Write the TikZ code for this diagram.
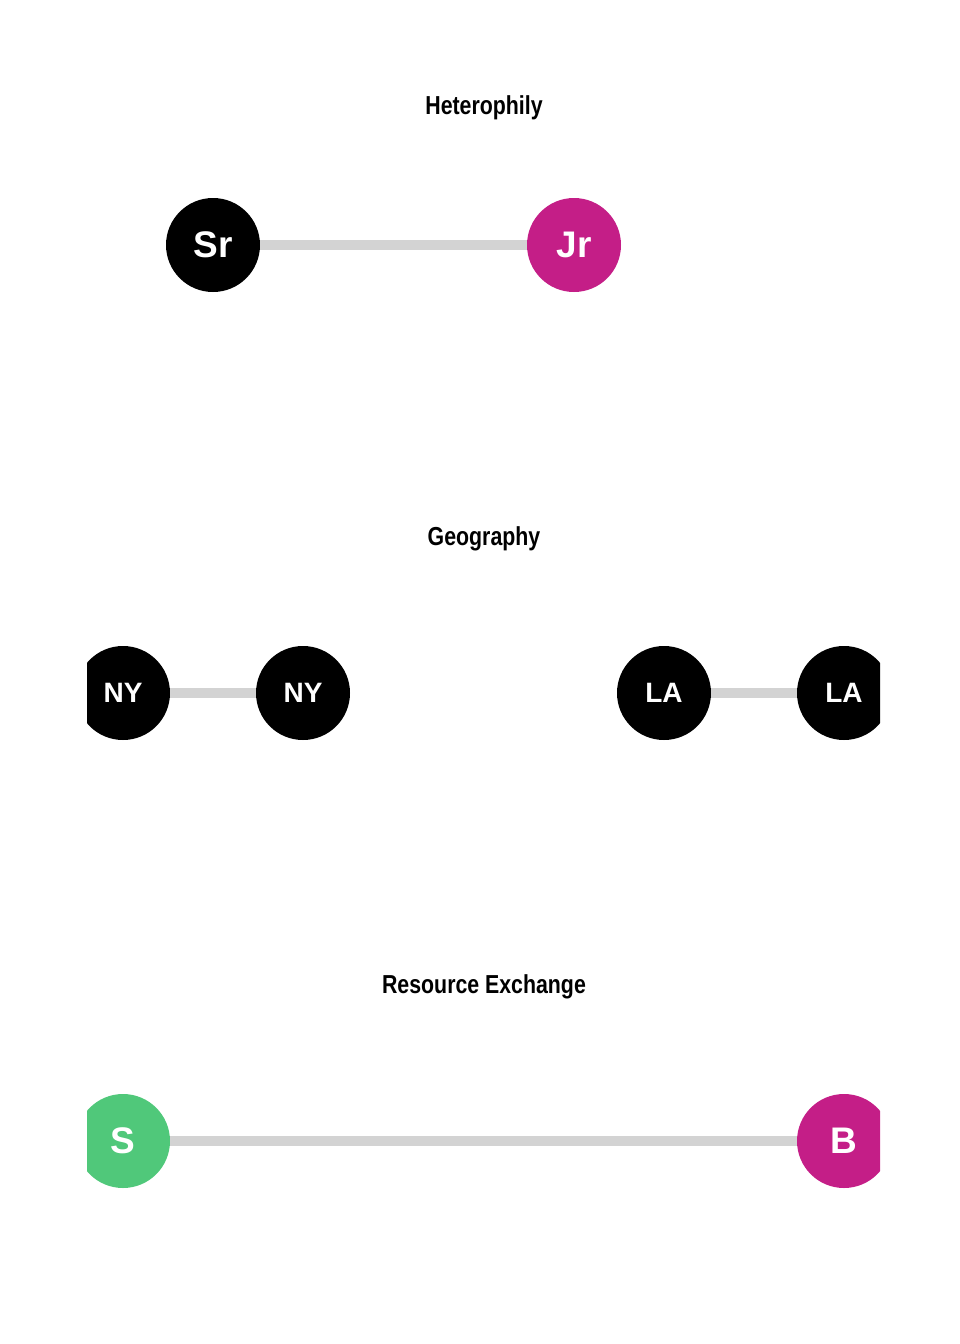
\documentclass[tikz,border=0pt]{standalone}
\usepackage{fontspec}
\setmainfont{Liberation Sans}
\newfontfamily\titlefont[FakeStretch=0.82]{Liberation Sans}
\usepackage{xcolor}
\definecolor{nodemagenta}{RGB}{196,30,135}
\definecolor{nodegreen}{RGB}{80,200,122}
\definecolor{edgegray}{RGB}{211,211,211}
\tikzset{
  actor/.style={circle,fill=black,minimum size=94pt,inner sep=0pt,text=white,font=\bfseries\fontsize{28}{28}\selectfont},
  bigactor/.style={actor,font=\bfseries\fontsize{37}{37}\selectfont},
  tie/.style={edgegray,line width=10pt},
  paneltitle/.style={font=\titlefont\bfseries\fontsize{26}{26}\selectfont}
}
\begin{document}
\begin{tikzpicture}[x=1pt,y=-1pt]
      \useasboundingbox (0,0) rectangle (960,1344);
      \node[paneltitle] (t1) at (484,108) {Heterophily};
      \node[paneltitle] (t2) at (484,539) {Geography};
      \node[paneltitle] (t3) at (484,987) {Resource Exchange};
      \begin{scope}
      \clip (87,0) rectangle (880,1344);
      \node[bigactor] (sr) at (213,245) {Sr};
      \node[bigactor,fill=nodemagenta] (jr) at (574,245) {Jr};
      \node[actor] (ny1) at (123,693) {NY};
      \node[actor] (ny2) at (303,693) {NY};
      \node[actor] (la1) at (664,693) {LA};
      \node[actor] (la2) at (844,693) {LA};
      \node[bigactor,fill=nodegreen] (s) at (123,1141) {S};
      \node[bigactor,fill=nodemagenta] (b) at (844,1141) {B};
      \draw[tie] (sr) -- (jr);
      \draw[tie] (ny1) -- (ny2);
      \draw[tie] (la1) -- (la2);
      \draw[tie] (s) -- (b);
      \end{scope}
    \end{tikzpicture}
\end{document}
